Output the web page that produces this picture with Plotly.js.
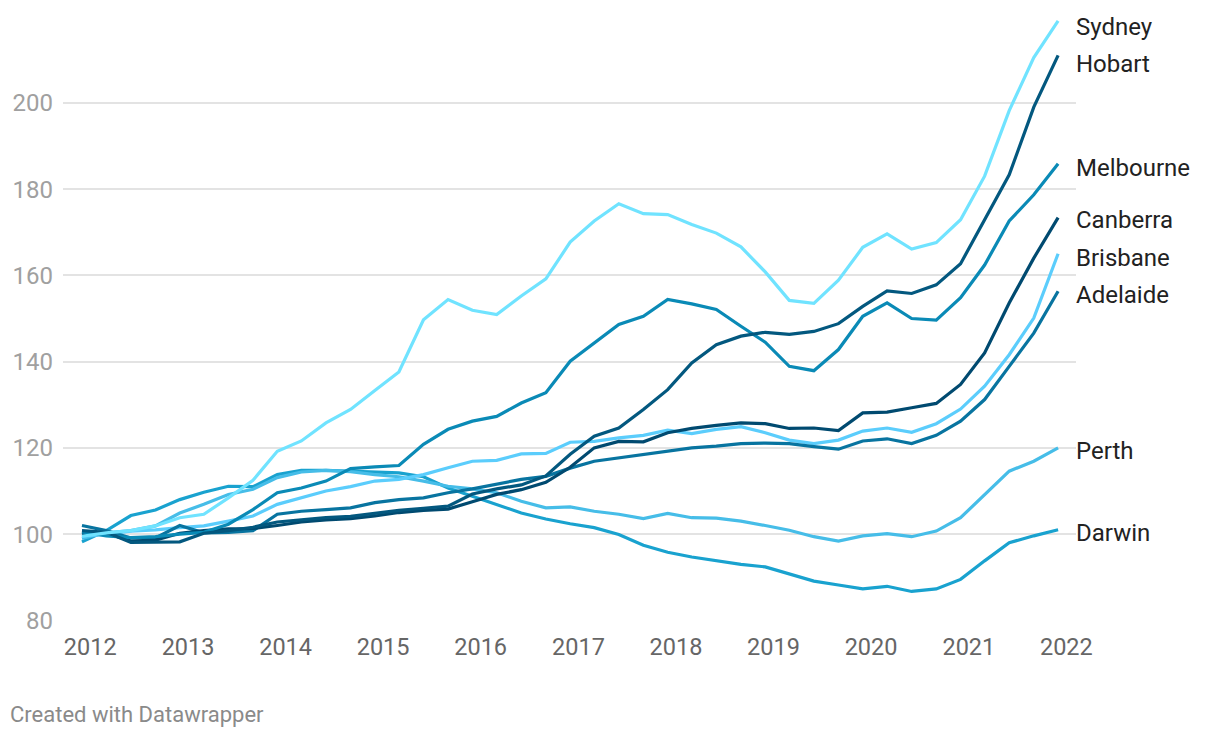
<!DOCTYPE html>
<html>
<head>
<meta charset="utf-8">
<script src="https://cdn.plot.ly/plotly-3.0.1.min.js"></script>
<style>
  html, body { margin: 0; padding: 0; background: #fff; }
  #chart { width: 1220px; height: 738px; }
</style>
</head>
<body>
<div id="chart"></div>
<script>
// Quarterly dates (Dec 2011 – Dec 2021)
const dates = [
  "2011-12-01","2012-03-01","2012-06-01","2012-09-01",
  "2012-12-01","2013-03-01","2013-06-01","2013-09-01",
  "2013-12-01","2014-03-01","2014-06-01","2014-09-01",
  "2014-12-01","2015-03-01","2015-06-01","2015-09-01",
  "2015-12-01","2016-03-01","2016-06-01","2016-09-01",
  "2016-12-01","2017-03-01","2017-06-01","2017-09-01",
  "2017-12-01","2018-03-01","2018-06-01","2018-09-01",
  "2018-12-01","2019-03-01","2019-06-01","2019-09-01",
  "2019-12-01","2020-03-01","2020-06-01","2020-09-01",
  "2020-12-01","2021-03-01","2021-06-01","2021-09-01",
  "2021-12-01"
];

const sydney = [99.5,100.3,100.8,101.9,103.8,104.6,108.4,112.5,119.2,121.6,125.8,128.9,133.3,137.6,149.7,154.4,151.9,150.9,155.2,159.2,167.7,172.6,176.6,174.3,174.1,171.8,169.8,166.6,160.8,154.2,153.5,158.9,166.5,169.6,166.1,167.6,172.9,183.0,198.2,210.5,219.0];
const hobart = [100.8,100.4,98.1,98.1,98.2,100.2,100.8,101.6,102.8,103.3,103.8,104.1,104.8,105.5,106.0,106.5,109.3,110.5,111.4,113.5,118.5,122.7,124.6,128.9,133.5,139.7,143.9,145.9,146.8,146.3,147.0,148.8,152.8,156.4,155.8,157.8,162.7,172.9,183.3,199.0,211.0];
const melbourne = [100.5,99.6,99.2,99.4,100.0,100.4,102.3,105.7,109.6,110.7,112.3,115.2,115.6,115.9,120.8,124.3,126.2,127.3,130.4,132.8,140.1,144.3,148.6,150.5,154.4,153.4,152.1,148.2,144.5,138.9,137.9,142.8,150.5,153.6,150.0,149.6,154.8,162.4,172.6,178.7,185.9];
const canberra = [100.0,100.2,98.4,98.6,100.2,100.8,101.2,101.3,102.0,102.8,103.3,103.6,104.2,105.0,105.5,105.8,107.5,109.2,110.3,112.0,115.5,120.0,121.5,121.4,123.5,124.5,125.2,125.8,125.6,124.5,124.6,124.0,128.1,128.3,129.3,130.3,134.7,142.0,153.6,164.0,173.4];
const brisbane = [99.5,100.0,100.7,101.0,101.5,101.9,103.0,104.2,106.9,108.4,110.0,111.0,112.3,112.7,113.8,115.4,116.9,117.1,118.6,118.7,121.3,121.5,122.3,122.9,124.1,123.3,124.3,124.9,123.5,121.8,121.0,121.8,123.9,124.6,123.6,125.6,129.0,134.3,141.6,150.1,165.0];
const adelaide = [102.0,100.8,99.1,99.1,102.0,100.3,100.4,100.8,104.6,105.3,105.7,106.1,107.3,108.0,108.4,109.6,110.5,111.5,112.7,113.4,115.3,116.9,117.7,118.5,119.2,120.0,120.4,121.0,121.1,121.0,120.3,119.7,121.6,122.1,121.0,122.9,126.2,131.2,138.9,146.6,156.3];
const perth = [99.0,100.3,100.8,101.9,104.9,106.9,109.2,110.4,113.1,114.4,114.8,114.5,113.8,113.3,112.3,111.1,110.5,109.6,107.6,106.1,106.3,105.3,104.6,103.6,104.8,103.8,103.7,103.0,102.0,100.9,99.4,98.4,99.6,100.1,99.4,100.7,103.8,109.2,114.6,116.9,120.0];
const darwin = [98.2,100.8,104.3,105.6,108.0,109.7,111.1,111.0,113.8,114.8,114.8,114.6,114.4,114.2,113.3,110.7,108.8,106.9,104.9,103.5,102.4,101.5,99.9,97.4,95.8,94.7,93.8,93.0,92.4,90.7,89.1,88.2,87.3,87.9,86.7,87.3,89.5,93.8,98.0,99.6,101.0];

const cityNames = ["Sydney","Hobart","Melbourne","Canberra","Brisbane","Adelaide","Perth","Darwin"];
const cityValues = [sydney, hobart, melbourne, canberra, brisbane, adelaide, perth, darwin];

const yTicks = [80, 100, 120, 140, 160, 180, 200];
const xTickVals = ["2012-01-01","2013-01-01","2014-01-01","2015-01-01","2016-01-01","2017-01-01","2018-01-01","2019-01-01","2020-01-01","2021-01-01","2022-01-01"];
const xTickText = ["2012","2013","2014","2015","2016","2017","2018","2019","2020","2021","2022"];

// styles
const colors = {
  Sydney: "#70e3ff", Hobart: "#03587f", Melbourne: "#0a8ab6", Canberra: "#004a70",
  Brisbane: "#5bcdfc", Adelaide: "#0874a0", Perth: "#46bde8", Darwin: "#19a2cf"
};
const labelShift = { Sydney: -6, Hobart: -9, Melbourne: -4, Canberra: -2, Brisbane: -4, Adelaide: -4, Perth: -3, Darwin: -3 };
// draw order: back to front
const order = ["Darwin","Perth","Brisbane","Adelaide","Canberra","Melbourne","Hobart","Sydney"];

const traces = order.map(name => {
  const vals = cityValues[cityNames.indexOf(name)];
  return {
    type: "scatter", mode: "lines", name: name,
    x: dates, y: vals,
    line: { color: colors[name], width: 3.2 },
    hoverinfo: "skip"
  };
});

const annotations = cityNames.map((name, i) => {
  const vals = cityValues[i];
  return {
    x: dates[dates.length - 1], y: vals[vals.length - 1],
    xref: "x", yref: "y", text: name, showarrow: false,
    xanchor: "left", yanchor: "middle", xshift: 16, yshift: labelShift[name],
    font: { family: "Roboto, sans-serif", size: 24, color: "#222222" }
  };
});
annotations.push({
  xref: "paper", yref: "paper", x: -0.0543, y: -0.152,
  xanchor: "left", yanchor: "middle", showarrow: false,
  text: "Created with Datawrapper",
  font: { family: "Roboto, sans-serif", size: 22, color: "#8a8a8a" }
});

const layout = {
  width: 1220, height: 738,
  margin: { l: 63, r: 144, t: 8, b: 117 },
  paper_bgcolor: "#ffffff", plot_bgcolor: "#ffffff",
  showlegend: false,
  font: { family: "Roboto, sans-serif" },
  xaxis: {
    type: "date",
    range: ["2011-09-21", "2022-02-06"],
    tickvals: xTickVals, ticktext: xTickText,
    showgrid: false, zeroline: false, showline: false,
    ticks: "", ticklabelstandoff: 9,
    tickfont: { family: "Roboto, sans-serif", size: 23.5, color: "#666666" }
  },
  yaxis: {
    range: [79.85, 222],
    tickvals: yTicks,
    showgrid: true, gridcolor: "#e3e3e3", gridwidth: 2,
    zeroline: false, showline: false, ticks: "",
    ticklabelstandoff: 9,
    tickfont: { family: "Roboto, sans-serif", size: 24, color: "#a0a0a0" }
  },
  annotations: annotations
};

Plotly.newPlot("chart", traces, layout, { displayModeBar: false, staticPlot: true });
</script>
</body>
</html>
